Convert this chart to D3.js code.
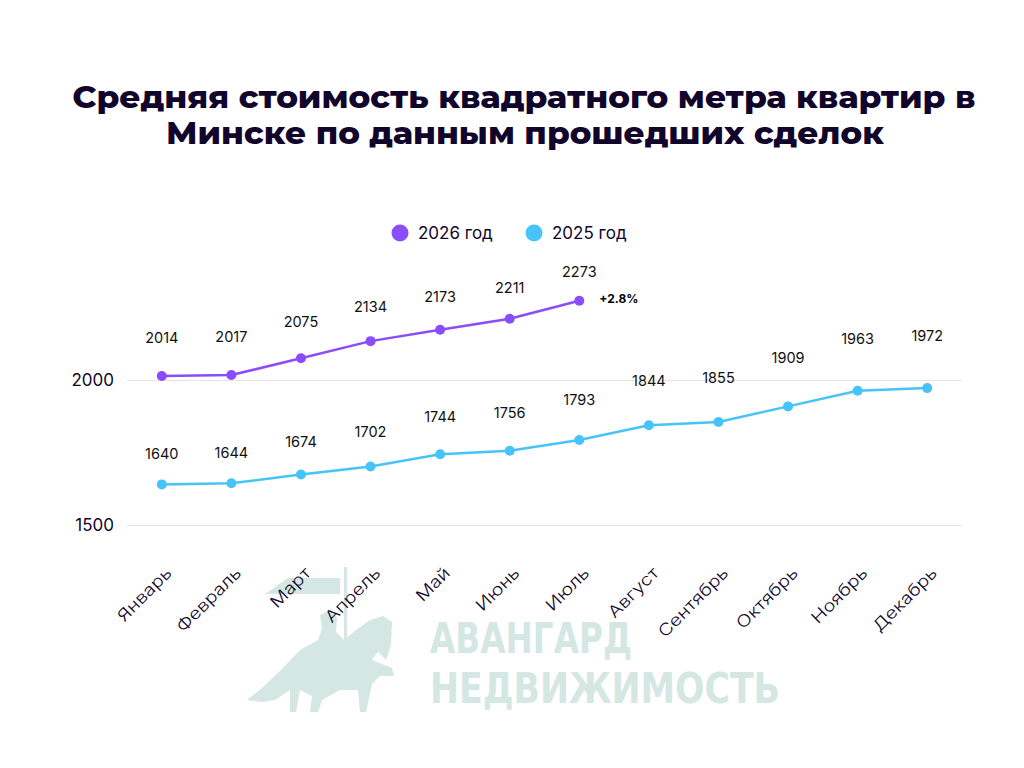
<!DOCTYPE html>
<html>
<head>
<meta charset="utf-8">
<script src="https://cdn.jsdelivr.net/npm/d3@7"></script>
<style>
  body { margin: 0; background: #fff; }
  svg { display: block; font-family: Inter, "Noto Sans", sans-serif; }
</style>
</head>
<body>
<svg id="chart" width="1024" height="768"></svg>
<script>
var months = ["Январь","Февраль","Март","Апрель","Май","Июнь","Июль","Август","Сентябрь","Октябрь","Ноябрь","Декабрь"];
var values2026 = [2014, 2017, 2075, 2134, 2173, 2211, 2273];
var values2025 = [1640, 1644, 1674, 1702, 1744, 1756, 1793, 1844, 1855, 1909, 1963, 1972];
var yTicks = [1500, 2000];
var seriesNames = ["2026 год", "2025 год"];
var changeLabel = "+2.8%";

var purple = "#8b4dfb", cyan = "#46c4fa", ink = "#12052b";

var svg = d3.select("#chart");

// watermark (knight logo + name), drawn first so the chart sits over it
var wm = svg.append("g").attr("fill", "#d4e7e3");
wm.append("path")
  .attr("d", "M247,700 L262,688 L283,668 L300,650 L318,640 L322,628 L320,615 L330,610 L337,618 L336,632 L344,640 L356,630 L370,620 L383,616 L392,622 L391,645 L386,660 L378,652 L372,660 L392,668 L394,676 L380,676 L372,684 L366,712 L360,712 L358,690 L340,690 L322,700 L318,712 L310,712 L312,696 L300,690 L296,712 L290,712 L290,690 L275,700 L262,702 Z");
wm.append("rect").attr("x", 344).attr("y", 567).attr("width", 3).attr("height", 84);
wm.append("path").attr("d", "M265,594 L288,578 L340,578 L340,594 Z");
var wmFont = "'DejaVu Sans Condensed', 'Liberation Sans Narrow', sans-serif";
wm.append("text")
  .attr("x", 430).attr("y", 653)
  .attr("textLength", 202).attr("lengthAdjust", "spacingAndGlyphs")
  .style("font-family", wmFont).style("font-size", "43px").style("font-weight", 600)
  .text("АВАНГАРД");
wm.append("text")
  .attr("x", 430).attr("y", 703)
  .attr("textLength", 350).attr("lengthAdjust", "spacingAndGlyphs")
  .style("font-family", wmFont).style("font-size", "43px").style("font-weight", 600)
  .text("НЕДВИЖИМОСТЬ");

// title
var title = svg.append("g").attr("fill", ink)
  .style("font-family", "Montserrat, Inter, 'Noto Sans', sans-serif")
  .style("font-size", "31px").style("font-weight", 800)
  .attr("text-anchor", "middle");
title.append("text").attr("x", 524).attr("y", 108)
  .attr("textLength", 903).attr("lengthAdjust", "spacingAndGlyphs")
  .text("Средняя стоимость квадратного метра квартир в");
title.append("text").attr("x", 525).attr("y", 144)
  .attr("textLength", 718).attr("lengthAdjust", "spacingAndGlyphs")
  .text("Минске по данным прошедших сделок");

// legend
var legend = svg.append("g").style("font-size", "17px").attr("fill", ink);
[[400, purple, seriesNames[0]], [534, cyan, seriesNames[1]]].forEach(function(d){
  legend.append("circle").attr("cx", d[0]).attr("cy", 233).attr("r", 8.5).attr("fill", d[1]);
  legend.append("text").attr("x", d[0] + 18).attr("y", 239).text(d[2]);
});

var x = d3.scaleBand().domain(months).range([127, 962]);
var y = d3.scaleLinear().domain([1500, 2500]).range([525, 235]);
var cx = function(i){ return x(months[i]) + x.bandwidth() / 2; };

// grid + y axis
var yAxis = d3.axisLeft(y).tickValues(yTicks).tickSize(-835).tickPadding(13).tickFormat(d3.format("d"));
var ga = svg.append("g").attr("transform", "translate(127,0)").call(yAxis);
ga.select(".domain").remove();
ga.selectAll(".tick line").attr("stroke", "#e4e4e8");
ga.selectAll(".tick text").attr("fill", ink).style("font-size", "17px").style("font-family", "Inter, sans-serif");

// x axis labels, rotated and a bit stretched (source font is wider)
var xa = svg.append("g").attr("transform", "translate(0,525)")
  .call(d3.axisBottom(x).tickSize(0).tickPadding(0));
xa.select(".domain").remove();
xa.selectAll(".tick text")
  .attr("fill", ink).style("font-size", "16.5px").style("font-weight", 300)
  .style("font-family", "Inter, sans-serif")
  .attr("text-anchor", "end")
  .attr("transform", "translate(11,49) rotate(-45) scale(1.2,1)")
  .attr("dy", 0);

var line = d3.line().x(function(d, i){ return cx(i); }).y(function(d){ return y(d); });

// value labels follow their own scales (they are not a fixed offset in the source)
var lab2025 = d3.scaleLinear().domain([1640, 1972]).range([459, 341]);
var lab2026 = d3.scaleLinear().domain([2014, 2273]).range([343, 277]);

function drawSeries(vals, color, labScale){
  var g = svg.append("g");
  g.append("path").datum(vals).attr("d", line)
    .attr("fill", "none").attr("stroke", color).attr("stroke-width", 2.5);
  g.selectAll("circle").data(vals).join("circle")
    .attr("cx", function(d, i){ return cx(i); })
    .attr("cy", function(d){ return y(d); })
    .attr("r", 5).attr("fill", color);
  g.selectAll("text").data(vals).join("text")
    .attr("x", function(d, i){ return cx(i); })
    .attr("y", function(d){ return labScale(d); })
    .attr("text-anchor", "middle").attr("fill", "#111")
    .style("font-size", "14.5px")
    .text(function(d){ return d; });
}
drawSeries(values2025, cyan, lab2025);
drawSeries(values2026, purple, lab2026);

var last = values2026.length - 1;
svg.append("text")
  .attr("x", cx(last) + 20).attr("y", y(values2026[last]) + 2)
  .style("font-size", "12px").style("font-weight", 700).attr("fill", "#000")
  .text(changeLabel);
</script>
</body>
</html>
